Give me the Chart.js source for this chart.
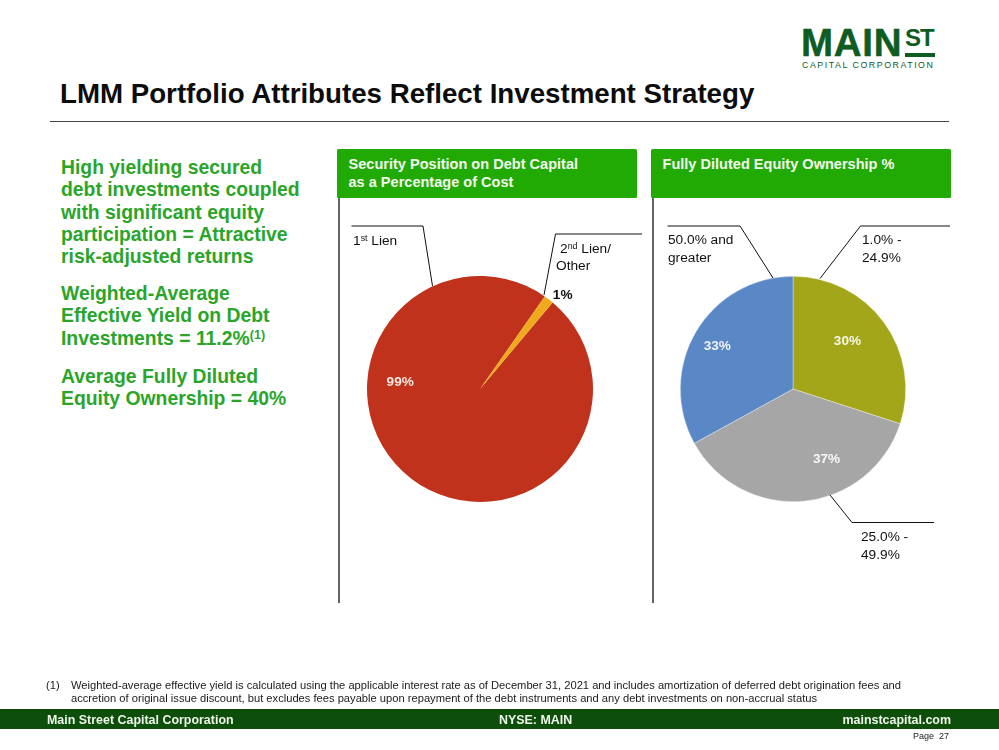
<!DOCTYPE html>
<html lang="en">
<head>
<meta charset="UTF-8">
<title>LMM Portfolio Attributes</title>
<script src="https://cdn.jsdelivr.net/npm/chart.js"></script>
<style>
    body, html {
        margin: 0;
        padding: 0;
        width: 999px;
        height: 750px;
        background: #fff;
        overflow: hidden;
        font-family: "Liberation Sans", Arial, sans-serif;
        color: #111;
    }
    .abs { position: absolute; white-space: nowrap; }
    canvas { position: absolute; }
    sup { font-size: 65%; line-height: 0; vertical-align: baseline; position: relative; top: -0.45em; }
    #title { left: 60px; top: 78px; font-size: 27.7px; font-weight: bold; line-height: 32px; color: #0c0c0c; }
    #rule { left: 50px; top: 120.5px; width: 899px; height: 1px; background: #444; }
    .lead { left: 61px; font-size: 19.35px; line-height: 22.3px; font-weight: bold; color: #2aa52a; }
    .head { height: 49px; width: 299.5px; background: #22aa04; border-radius: 1.5px; color: #f2f8ee;
            font-size: 14.55px; line-height: 18px; font-weight: bold; box-sizing: border-box; padding: 5.5px 0 0 11.5px; }
    .call { font-size: 13.7px; line-height: 17.5px; color: #111; }
    #logo1 { left: 801px; top: 20.5px; font-size: 38.5px; line-height: 44px; font-weight: bold; color: #0e5c22; letter-spacing: 0.7px; -webkit-text-stroke: 0.5px #0e5c22; }
    #logo2 { left: 905px; top: 27.2px; font-size: 24px; line-height: 22px; font-weight: bold; color: #0e5c22; letter-spacing: -1px; }
    #logoBar { left: 905px; top: 52.7px; width: 29.5px; height: 4px; background: #0e5c22; }
    #logo3 { left: 802px; top: 60.4px; font-size: 8.8px; line-height: 11px; color: #0e5c22; letter-spacing: 1.55px; }
    .note { font-size: 11.17px; line-height: 13px; color: #1a1a1a; }
    #band { left: 0; top: 709px; width: 999px; height: 20px; background: #0d4f0a; }
    .foot { top: 710px; font-size: 12.45px; line-height: 21px; font-weight: bold; color: #eef5ea; }
    #page { left: 913px; top: 731px; font-size: 9px; line-height: 11px; color: #222; }
</style>
</head>
<body>
<div class="abs" id="logo1">MAIN</div>
<div class="abs" id="logo2">ST</div>
<div class="abs" id="logoBar"></div>
<div class="abs" id="logo3">CAPITAL CORPORATION</div>

<div class="abs" id="title">LMM Portfolio Attributes Reflect Investment Strategy</div>
<div class="abs" id="rule"></div>

<div class="abs lead" style="top:156px">High yielding secured<br>debt investments coupled<br>with significant equity<br>participation = Attractive<br>risk-adjusted returns</div>
<div class="abs lead" style="top:282px">Weighted-Average<br>Effective Yield on Debt<br>Investments = 11.2%<sup>(1)</sup></div>
<div class="abs lead" style="top:365px">Average Fully Diluted<br>Equity Ownership = 40%</div>

<div class="abs head" style="left:337px;top:149px">Security Position on Debt Capital<br>as a Percentage of Cost</div>
<div class="abs head" style="left:651px;top:149px">Fully Diluted Equity Ownership %</div>

<canvas id="lienPie" width="300" height="300" style="left:330px;top:239px"></canvas>
<canvas id="equityPie" width="300" height="300" style="left:643px;top:239px"></canvas>

<svg class="abs" style="left:0;top:0" width="999" height="750" fill="none" stroke="#111" stroke-width="1">
    <path d="M339 198V603M653 198V603" stroke-width="1.3"/>
    <path d="M351.5 226H423L432.5 286"/>
    <path d="M642 234H555.5L544 295"/>
    <path d="M667.5 226H740L773 278"/>
    <path d="M950 226H860.5L820 278.5"/>
    <path d="M830 495L852 522.5H934"/>
</svg>

<div class="abs call" style="left:353px;top:232px">1<sup>st</sup> Lien</div>
<div class="abs call" style="left:560px;top:239.5px">2<sup>nd</sup> Lien/</div>
<div class="abs call" style="left:556px;top:257px">Other</div>
<div class="abs call" style="left:668px;top:231px">50.0% and<br>greater</div>
<div class="abs call" style="left:862px;top:231px">1.0% -<br>24.9%</div>
<div class="abs call" style="left:861px;top:528px">25.0% -<br>49.9%</div>

<div class="abs note" style="left:46px;top:679px">(1)</div>
<div class="abs note" style="left:71px;top:679px">Weighted-average effective yield is calculated using the applicable interest rate as of December 31, 2021 and includes amortization of deferred debt origination fees and<br>accretion of original issue discount, but excludes fees payable upon repayment of the debt instruments and any debt investments on non-accrual status</div>

<div class="abs" id="band"></div>
<div class="abs foot" style="left:47px">Main Street Capital Corporation</div>
<div class="abs foot" style="left:499px">NYSE: MAIN</div>
<div class="abs foot" style="right:48px">mainstcapital.com</div>
<div class="abs" id="page">Page&nbsp; 27</div>

<script>
    const lienLabels = ['1st Lien', '2nd Lien/Other'];
    const lienValues = [98.6, 1.4];
    const lienColors = ['#c0321c', '#eeaa1c'];

    const equityLabels = ['1.0% - 24.9%', '25.0% - 49.9%', '50.0% and greater'];
    const equityValues = [30, 37, 33];
    const equityColors = ['#a2a618', '#a6a6a6', '#5a87c5'];

    // percent labels are hand placed on the slide, so angle (deg clockwise from top) and radius fraction
    const lienLabelSpots = [{ angle: 276, frac: 0.71, color: '#f5e6df' }, { angle: 41, frac: 1.115, color: '#111' }];
    const equityLabelSpots = [
        { angle: 48, frac: 0.65, color: '#f7f7e6' },
        { angle: 154, frac: 0.68, color: '#f7f7f7' },
        { angle: 300.6, frac: 0.78, color: '#eef2fa' }
    ];

    const percentLabels = {
        id: 'percentLabels',
        afterDatasetsDraw(chart, args, opts) {
            const ctx = chart.ctx;
            const values = chart.data.datasets[0].data;
            ctx.save();
            ctx.font = 'bold 13.6px "Liberation Sans", Arial, sans-serif';
            ctx.textAlign = 'center';
            ctx.textBaseline = 'middle';
            chart.getDatasetMeta(0).data.forEach((arc, i) => {
                const spot = opts.spots[i];
                const a = spot.angle * Math.PI / 180;
                const r = arc.outerRadius * spot.frac;
                ctx.fillStyle = spot.color;
                ctx.fillText(Math.round(values[i]) + '%', arc.x + r * Math.sin(a), arc.y - r * Math.cos(a) + 1.5);
            });
            ctx.restore();
        }
    };

    function makePie(id, labels, values, colors, rotation, spots, border) {
        return new Chart(document.getElementById(id), {
            type: 'pie',
            data: {
                labels: labels,
                datasets: [{
                    data: values,
                    backgroundColor: colors,
                    borderWidth: border,
                    borderColor: 'rgba(255,255,255,0.6)',
                    hoverOffset: 0
                }]
            },
            options: {
                responsive: false,
                animation: false,
                rotation: rotation,
                layout: { padding: 37 },
                plugins: {
                    legend: { display: false },
                    tooltip: { enabled: false },
                    percentLabels: { spots: spots }
                }
            },
            plugins: [percentLabels]
        });
    }

    makePie('lienPie', lienLabels, lienValues, lienColors, 40, lienLabelSpots, 0);
    makePie('equityPie', equityLabels, equityValues, equityColors, 0, equityLabelSpots, 0.6);
</script>
</body>
</html>
